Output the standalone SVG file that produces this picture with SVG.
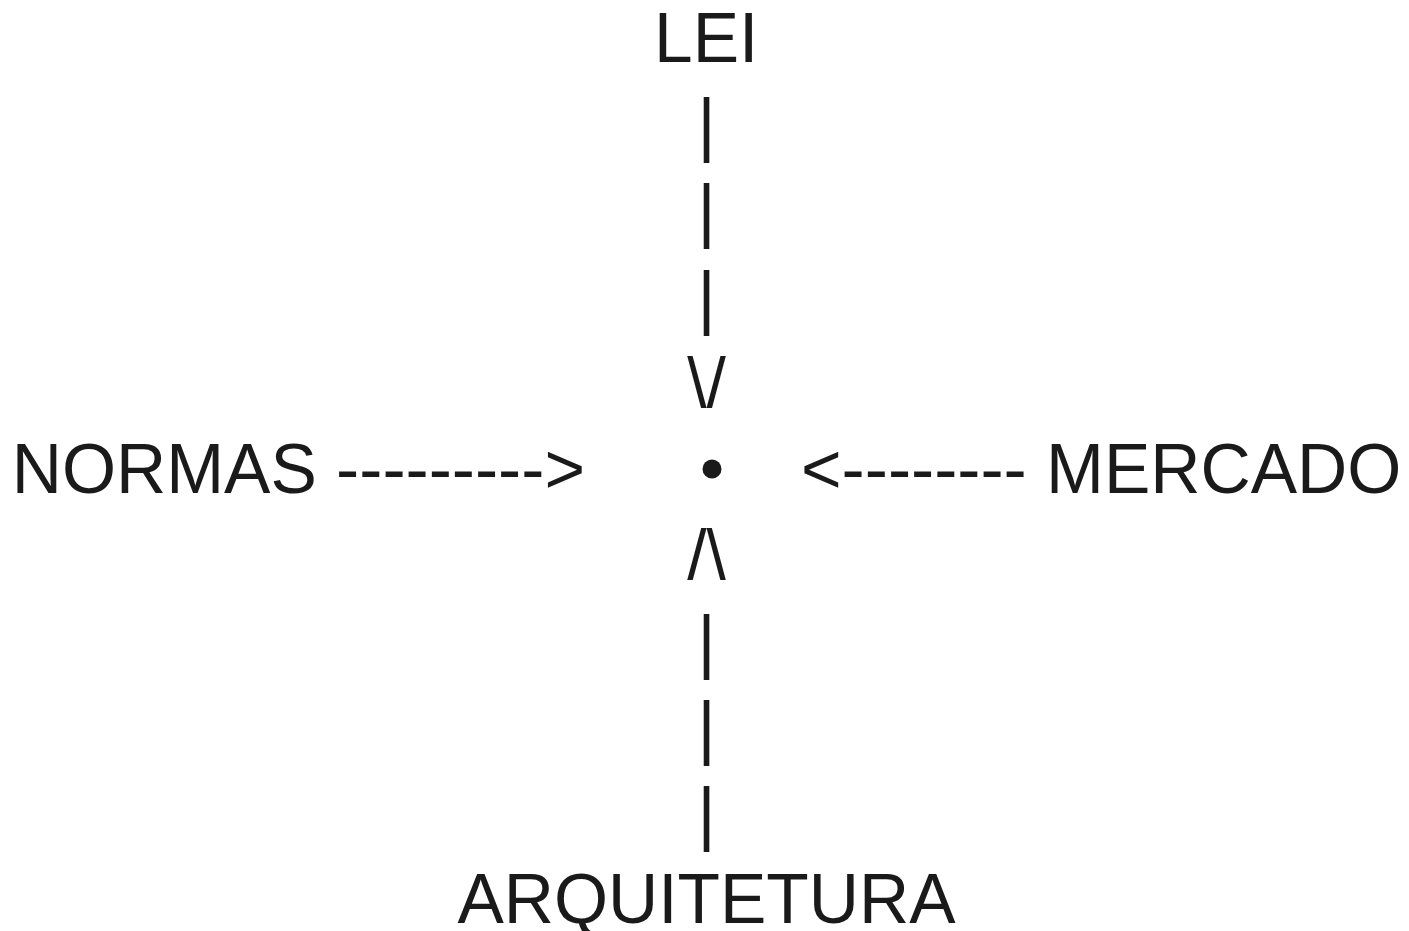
<svg xmlns="http://www.w3.org/2000/svg" width="1409" height="931" viewBox="0 0 1409 931">
<style>
text { font-family: "Liberation Sans", Arial, Helvetica, sans-serif; font-size: 69.5px; fill: #1a1a1a; }
.mid { text-anchor: middle; }
</style>
<rect width="1409" height="931" fill="#ffffff"/>
<g id="connectors">
  <text class="mid" x="706.5" y="148.4">|</text>
  <text class="mid" x="706.5" y="234.4">|</text>
  <text class="mid" x="706.5" y="321.4">|</text>
  <text class="mid" x="706.5" y="407">\/</text>
  <text class="mid" x="706.5" y="579">/\</text>
  <text class="mid" x="706.5" y="665.4">|</text>
  <text class="mid" x="706.5" y="751.4">|</text>
  <text class="mid" x="706.5" y="837.4">|</text>
  <text x="336.1" y="493">---------&gt;</text>
  <text x="801" y="493">&lt;--------</text>
</g>
<g id="node-lei"><text x="654" y="62">LEI</text></g>
<g id="node-normas"><text x="11.7" y="493">NORMAS</text></g>
<g id="node-mercado"><text x="1046" y="493">MERCADO</text></g>
<g id="node-arquitetura"><text class="mid" x="706.5" y="923">ARQUITETURA</text></g>
<g id="node-center"><circle cx="712" cy="469" r="9.5" fill="#1a1a1a"/></g>
</svg>
